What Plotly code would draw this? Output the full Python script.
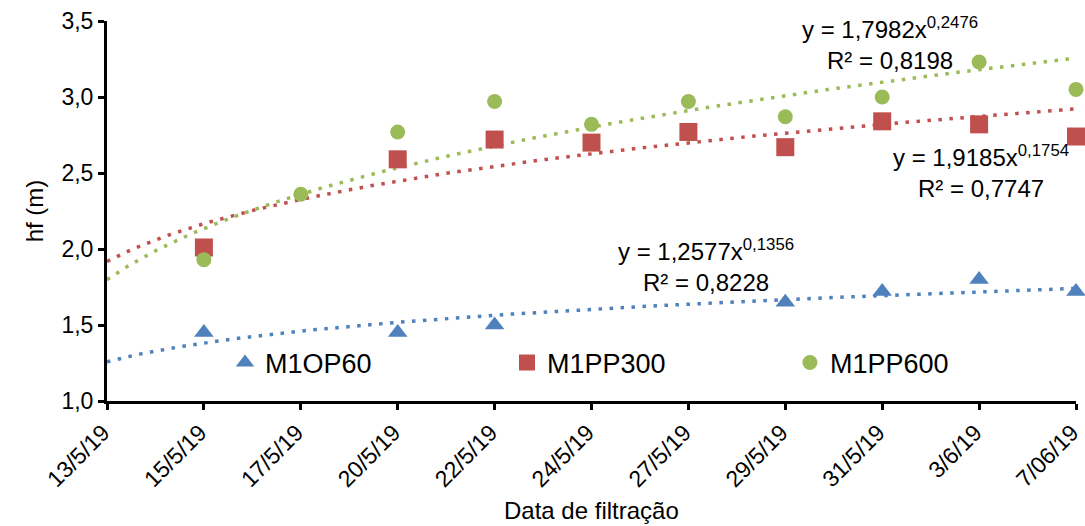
import numpy as np
import plotly.graph_objects as go

# Filtration dates (category axis)
datas = ["13/5/19", "15/5/19", "17/5/19", "20/5/19", "22/5/19", "24/5/19",
         "27/5/19", "29/5/19", "31/5/19", "3/6/19", "7/06/19"]

# Head loss hf (m) per filter; None = no measurement on that date
m1op60 = [None, 1.45, None, 1.45, 1.50, None, None, 1.65, 1.72, 1.80, 1.72]
m1pp300 = [None, 2.01, None, 2.59, 2.72, 2.70, 2.77, 2.67, 2.84, 2.82, 2.74]
m1pp600 = [None, 1.93, 2.36, 2.77, 2.97, 2.82, 2.97, 2.87, 3.00, 3.23, 3.05]

# Power-law trendline coefficients y = a * x^b (x = 1..n) and R²
fit_op60 = (1.2577, 0.1356, 0.8228)
fit_pp300 = (1.9185, 0.1754, 0.7747)
fit_pp600 = (1.7982, 0.2476, 0.8198)

BLUE, RED, GREEN = "#4F81BD", "#C0504D", "#9BBB59"
FONT = "Liberation Sans, Arial, sans-serif"

idx = list(range(len(datas)))
xs = np.linspace(0, len(datas) - 1, 200)

fig = go.Figure()


def add_trend(fit, color):
    a, b, _ = fit
    fig.add_trace(go.Scatter(
        x=xs, y=a * (xs + 1) ** b, mode="lines", showlegend=False,
        hoverinfo="skip", cliponaxis=False,
        line=dict(color=color, width=3.5, dash="3.5px,7.5px")))


add_trend(fit_op60, BLUE)
add_trend(fit_pp300, RED)
add_trend(fit_pp600, GREEN)

# Each series gets its own legend box so the entries sit on one row
fig.add_trace(go.Scatter(x=idx, y=m1op60, mode="markers", name="M1OP60",
                         cliponaxis=False, legend="legend",
                         marker=dict(symbol="triangle-up", size=17, color=BLUE)))
fig.add_trace(go.Scatter(x=idx, y=m1pp300, mode="markers", name="M1PP300",
                         cliponaxis=False, legend="legend2",
                         marker=dict(symbol="square", size=18, color=RED)))
fig.add_trace(go.Scatter(x=idx, y=m1pp600, mode="markers", name="M1PP600",
                         cliponaxis=False, legend="legend3",
                         marker=dict(symbol="circle", size=15, color=GREEN)))


def fmt(v):
    return f"{v:.4f}".replace(".", ",")


def eq_text(fit):
    a, b, r2 = fit
    return f"y = {fmt(a)}x<sup>{fmt(b)}</sup><br>R² = {fmt(r2)}"


for fit, ax, ay in [(fit_pp600, 8.08, 3.35), (fit_pp300, 9.02, 2.51),
                    (fit_op60, 6.18, 1.89)]:
    fig.add_annotation(x=ax, y=ay, text=eq_text(fit), showarrow=False,
                       xanchor="center", yanchor="middle", align="center",
                       font=dict(family=FONT, size=24, color="#000000"))

# X axis title placed below the rotated date labels
fig.add_annotation(x=0.5, y=-0.287, xref="paper", yref="paper",
                   text="Data de filtração", showarrow=False,
                   xanchor="center", yanchor="middle",
                   font=dict(family=FONT, size=24, color="#000000"))

legend_style = dict(orientation="h", y=0.1, xanchor="left", yanchor="middle",
                    bgcolor="rgba(0,0,0,0)", itemsizing="trace",
                    font=dict(family=FONT, size=27, color="#000000"))

fig.update_layout(
    width=1085, height=526,
    margin=dict(l=107, r=9, t=21, b=125),
    paper_bgcolor="white", plot_bgcolor="white",
    separators=",.",
    font=dict(family=FONT, size=23, color="#000000"),
    showlegend=True,
    legend=dict(x=0.1218, **legend_style),
    legend2=dict(x=0.4128, **legend_style),
    legend3=dict(x=0.7048, **legend_style),
    xaxis=dict(
        range=[0, len(datas) - 1], tickmode="array", tickvals=idx,
        ticktext=datas, tickangle=-45, showgrid=False, zeroline=False,
        showline=True, linecolor="black", linewidth=3,
        ticks="outside", ticklen=6, tickwidth=3, tickcolor="black",
        ticklabeloverflow="allow", automargin=False, ticklabelshift=-4,
        tickfont=dict(family=FONT, size=23),
    ),
    yaxis=dict(
        range=[1.0, 3.5], tickmode="array",
        tickvals=[1.0, 1.5, 2.0, 2.5, 3.0, 3.5],
        ticktext=["1,0", "1,5", "2,0", "2,5", "3,0", "3,5"],
        showgrid=False, zeroline=False,
        showline=True, linecolor="black", linewidth=3,
        ticks="outside", ticklen=6, tickwidth=3, tickcolor="black",
        automargin=False,
        tickfont=dict(family=FONT, size=23),
        title=dict(text="hf (m)", standoff=12,
                   font=dict(family=FONT, size=24)),
    ),
)

fig.write_html("out.html")
